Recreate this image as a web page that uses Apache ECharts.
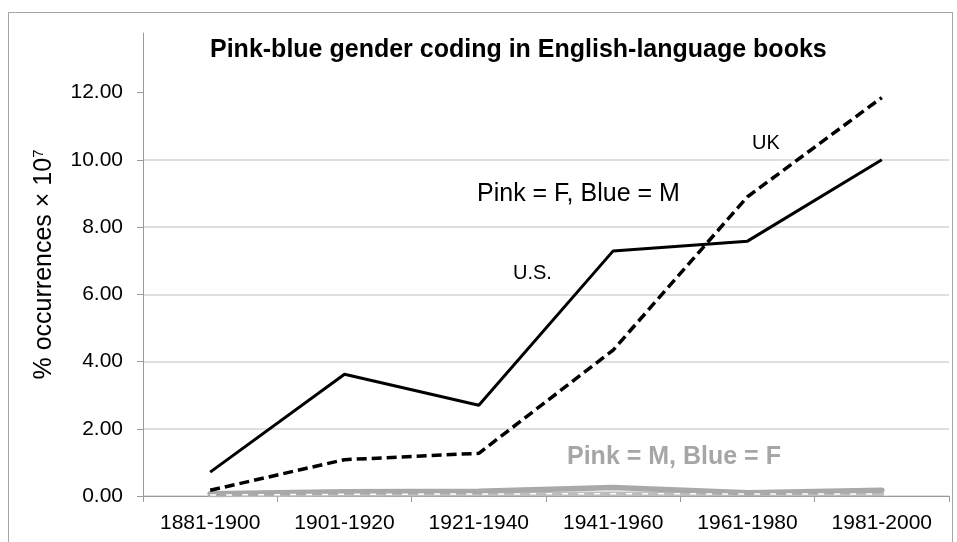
<!DOCTYPE html>
<html><head><meta charset="utf-8">
<script src="https://cdn.jsdelivr.net/npm/echarts@6/dist/echarts.min.js"></script>
<style>
html,body{margin:0;padding:0;background:#fff}
#wrap{position:relative;width:957px;height:542px;overflow:hidden}
#c{width:957px;height:542px}
#frame{position:absolute;left:8px;top:12px;width:943px;height:560px;border:1px solid #a6a6a6;pointer-events:none}
</style>
</head><body>
<div id="wrap"><div id="c"></div><div id="frame"></div></div>
<script>
var categories = ['1881-1900','1901-1920','1921-1940','1941-1960','1961-1980','1981-2000'];
var usPinkF = [0.71, 3.62, 2.70, 7.29, 7.58, 10.00];
var ukPinkF = [0.17, 1.08, 1.27, 4.34, 8.90, 11.85];
var usPinkM = [0.07, 0.13, 0.14, 0.25, 0.10, 0.17];
var ukPinkM = [0.03, 0.05, 0.06, 0.07, 0.06, 0.06];
var yTicks = [0, 2, 4, 6, 8, 10, 12];

var FONT = "'Liberation Sans', Arial, sans-serif";
var chart = echarts.init(document.getElementById('c'), null, {renderer: 'canvas'});
chart.setOption({
  animation: false,
  backgroundColor: '#fff',
  title: {
    text: 'Pink-blue gender coding in English-language books',
    left: 210, top: 38, padding: 0,
    textStyle: {fontFamily: FONT, fontSize: 25, fontWeight: 'bold', color: '#000'}
  },
  grid: {left: 143, right: 8, top: 33, bottom: 46, containLabel: false},
  xAxis: {
    type: 'category', data: categories, boundaryGap: true,
    axisLine: {lineStyle: {color: '#9a9a9a', width: 1}},
    axisTick: {show: true, length: 6, lineStyle: {color: '#9a9a9a'}},
    axisLabel: {fontFamily: FONT, fontSize: 21, color: '#000', margin: 17, interval: 0},
    splitLine: {show: false}
  },
  yAxis: {
    type: 'value', min: 0, max: 13.77, interval: 2,
    name: '{a|% occurrences × 10}{b|7}',
    nameLocation: 'middle', nameGap: 85, nameRotate: 90,
    nameTextStyle: {
      fontFamily: FONT, color: '#000',
      rich: {
        a: {fontFamily: FONT, fontSize: 25, color: '#000'},
        b: {fontFamily: FONT, fontSize: 15, color: '#000', verticalAlign: 'top', padding: [0, 0, 12, 0]}
      }
    },
    axisLine: {show: true, lineStyle: {color: '#9a9a9a', width: 1}},
    axisTick: {show: true, length: 6, lineStyle: {color: '#9a9a9a'}, customValues: yTicks},
    axisLabel: {fontFamily: FONT, fontSize: 21, color: '#000', margin: 20, customValues: yTicks,
      formatter: function (v) { return v.toFixed(2); }},
    splitLine: {show: true, showMaxLine: false, lineStyle: {color: '#d4d4d4', width: 1.5}}
  },
  series: [
    {name: 'UK Pink=M', type: 'line', data: ukPinkM, symbol: 'none', z: 2,
      lineStyle: {color: '#bdbdbd', width: 4.5, cap: 'round'}},
    {name: 'UK Pink=M overlay', type: 'line', data: ukPinkM, symbol: 'none', z: 4,
      lineStyle: {color: '#ffffff', width: 1.5, type: [6, 10]}},
    {name: 'US Pink=M', type: 'line', data: usPinkM, symbol: 'none', z: 3,
      lineStyle: {color: '#a9a9a9', width: 5.5, cap: 'round'}},
    {name: 'UK Pink=F', type: 'line', data: ukPinkF, symbol: 'none', z: 5,
      lineStyle: {color: '#000', width: 3.5, type: [10, 5]}},
    {name: 'US Pink=F', type: 'line', data: usPinkF, symbol: 'none', z: 6,
      lineStyle: {color: '#000', width: 3}}
  ],
  graphic: [
    {type: 'text', left: 752, top: 133, style: {text: 'UK', font: '20px ' + FONT, fill: '#000'}},
    {type: 'text', left: 477, top: 182, style: {text: 'Pink = F, Blue = M', font: '25px ' + FONT, fill: '#000'}},
    {type: 'text', left: 513, top: 263, style: {text: 'U.S.', font: '20px ' + FONT, fill: '#000'}},
    {type: 'text', left: 567, top: 445, style: {text: 'Pink = M, Blue = F', font: 'bold 25px ' + FONT, fill: '#a6a6a6'}}
  ]
});
</script>
</body></html>
